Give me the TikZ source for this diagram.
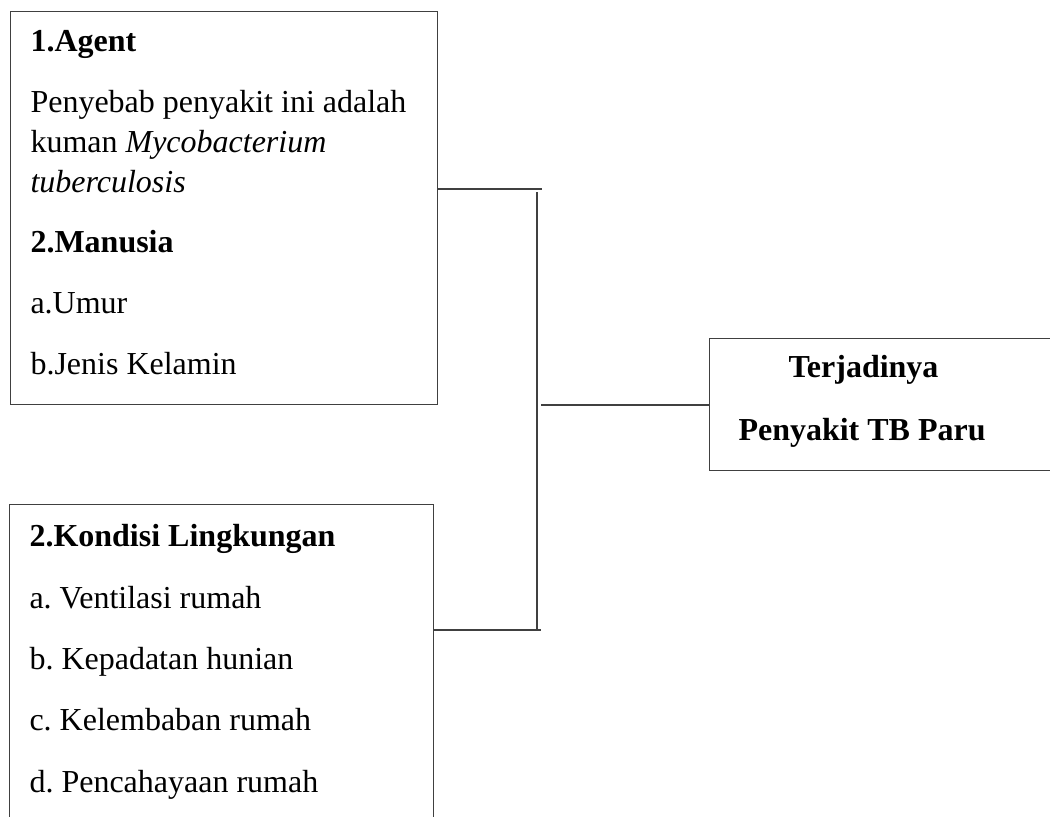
\documentclass[tikz,border=0pt]{standalone}
\usepackage{fontspec}
\setmainfont{Liberation Serif}
\usetikzlibrary{positioning}

\tikzset{every picture/.style={line width=0.75pt}}
\tikzset{
  box/.style={draw=black!75, line width=1pt, rectangle, inner sep=0pt, anchor=north west},
  txt/.style={anchor=base west, inner sep=0pt, font=\fontsize{24}{29}\selectfont\frenchspacing},
  link/.style={draw=black!75, line width=1pt}
}

\begin{document}
\begin{tikzpicture}[x=0.75pt,y=0.75pt,yscale=-1,xscale=1]
\useasboundingbox (0,0) rectangle (1050,817);
\clip (0,0) rectangle (1050,817);

%Shape: Rectangle
\node[box, minimum width=320.25pt, minimum height=294.75pt] (agent) at (10,11) {};
%Shape: Rectangle
\node[box, minimum width=318pt, minimum height=282pt] (env) at (9,504) {};
%Shape: Rectangle
\node[box, minimum width=293.25pt, minimum height=99pt] (tb) at (709,338) {};

%Straight Lines
\coordinate (sp1) at (542,189);
\draw[link] (agent.east |- sp1) -- (sp1) ;
%Straight Lines
\coordinate (sp2) at (541,630);
\draw[link] (env.east |- sp2) -- (sp2) ;
%Straight Lines
\coordinate (sptop) at (537,192);
\coordinate (spbot) at (537,630);
\draw[link] (sptop) -- (spbot) ;
%Straight Lines
\coordinate (spmid) at (541,405);
\draw[link] (spmid) -- (spmid -| tb.west) ;

% Text Node
\node[txt] (a1) at (30,52) {\bfseries 1.Agent};
% Text Node
\node[txt] (a2) at (30,113) {Penyebab penyakit ini adalah};
% Text Node
\node[txt] (a3) at (30,152) {kuman \textit{Mycobacterium}};
% Text Node
\node[txt] (a4) at (30,192) {\textit{tuberculosis}};
% Text Node
\node[txt] (m1) at (30,252) {\bfseries 2.Manusia};
% Text Node
\node[txt] (m2) at (30,313) {a.Umur};
% Text Node
\node[txt] (m3) at (30,374) {b.Jenis Kelamin};

% Text Node
\node[txt] (k1) at (29,546) {\bfseries 2.Kondisi Lingkungan};
% Text Node
\node[txt] (k2) at (29,608) {a. Ventilasi rumah};
% Text Node
\node[txt] (k3) at (29,669) {b. Kepadatan hunian};
% Text Node
\node[txt] (k4) at (29,730) {c. Kelembaban rumah};
% Text Node
\node[txt] (k5) at (29,792) {d. Pencahayaan rumah};

% Text Node
\node[txt] (t1) at (788,377) {\bfseries Terjadinya};
% Text Node
\node[txt] (t2) at (738,440) {\bfseries Penyakit TB Paru};

\end{tikzpicture}
\end{document}
